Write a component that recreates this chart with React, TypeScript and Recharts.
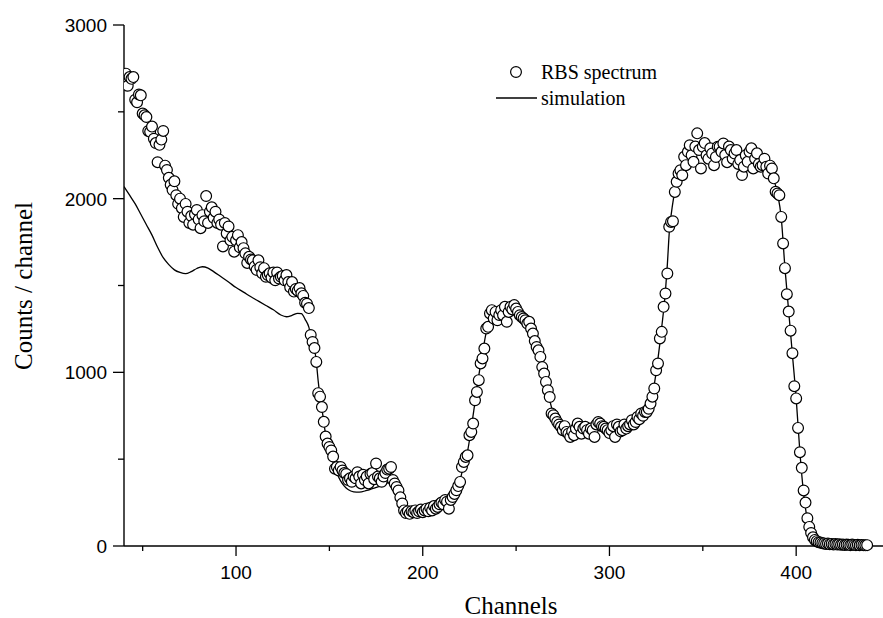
import React from "react";
import { ComposedChart, Line, Scatter, XAxis, YAxis } from "recharts";

// RBS spectrum: one count per channel, starting at channel 40
const FIRST_CHANNEL = 40;
const rbsCounts = [
  2660, 2720, 2650, 2700, 2690, 2700, 2570, 2555, 2600, 2595, // 40
  2490, 2480, 2470, 2390, 2385, 2415, 2345, 2320, 2210, 2310, // 50
  2340, 2390, 2190, 2165, 2120, 2080, 2050, 2100, 2020, 1970, // 60
  2000, 1945, 1895, 1970, 1925, 1860, 1900, 1850, 1910, 1935, // 70
  1880, 1830, 1905, 1870, 2015, 1860, 1925, 1950, 1890, 1925, // 80
  1860, 1880, 1850, 1725, 1860, 1800, 1840, 1760, 1780, 1695, // 90
  1760, 1790, 1720, 1750, 1715, 1685, 1630, 1665, 1650, 1645, // 100
  1610, 1590, 1645, 1605, 1570, 1600, 1550, 1560, 1570, 1545, // 110
  1575, 1530, 1575, 1540, 1550, 1555, 1530, 1560, 1520, 1490, // 120
  1520, 1465, 1480, 1470, 1485, 1455, 1440, 1400, 1395, 1370, // 130
  1215, 1175, 1140, 1060, 880, 860, 800, 715, 630, 590,       // 140
  570, 550, 515, 445, 455, 435, 455, 435, 420, 415,           // 150
  380, 390, 370, 400, 390, 425, 400, 360, 410, 380,           // 160
  400, 360, 415, 420, 385, 475, 400, 390, 370, 400,           // 170
  420, 440, 445, 455, 380, 360, 340, 320, 280, 245,           // 180
  205, 190, 200, 185, 200, 195, 205, 190, 200, 210,           // 190
  195, 205, 215, 200, 220, 205, 230, 215, 225, 240,           // 200
  250, 240, 265, 255, 215, 265, 282, 300, 321, 345,           // 210
  369, 455, 484, 513, 522, 638, 657, 705, 839, 887,           // 220
  955, 1051, 1080, 1137, 1252, 1262, 1339, 1358, 1310, 1348,  // 230
  1300, 1330, 1358, 1329, 1377, 1291, 1348, 1377, 1362, 1387, // 240
  1367, 1348, 1329, 1319, 1310, 1300, 1281, 1291, 1252, 1223, // 250
  1180, 1146, 1127, 1089, 1030, 993, 945, 897, 858, 763,      // 260
  753, 734, 714, 700, 686, 667, 690, 657, 647, 628,           // 270
  660, 638, 676, 705, 686, 647, 676, 686, 667, 647,           // 280
  676, 667, 628, 700, 714, 705, 690, 686, 676, 667,           // 290
  650, 667, 690, 628, 700, 686, 660, 667, 700, 676,           // 300
  690, 700, 724, 700, 714, 743, 730, 763, 750, 772,           // 310
  772, 790, 820, 860, 907, 1012, 1051, 1195, 1233, 1377,      // 320
  1454, 1569, 1838, 1866, 1870, 2039, 2097, 2145, 2164, 2135, // 330
  2241, 2193, 2270, 2308, 2250, 2212, 2300, 2376, 2280, 2174, // 340
  2299, 2320, 2250, 2230, 2290, 2260, 2193, 2240, 2299, 2299, // 350
  2270, 2318, 2251, 2210, 2300, 2280, 2230, 2260, 2280, 2200, // 360
  2222, 2136, 2184, 2250, 2212, 2270, 2290, 2174, 2230, 2261, // 370
  2200, 2184, 2193, 2230, 2184, 2145, 2190, 2174, 2117, 2040, // 380
  2030, 2020, 1895, 1742, 1600, 1450, 1350, 1240, 1110, 920,  // 390
  850, 680, 540, 450, 320, 250, 160, 110, 75, 50,             // 400
  35, 28, 22, 20, 16, 15, 12, 14, 10, 12,                     // 410
  9, 11, 8, 10, 7, 9, 6, 8, 7, 5,                             // 420
  8, 6, 5, 7, 4, 6, 5, 4, 5,                                  // 430
];

// simulation curve
const simChannels = [
  40, 43, 46, 49, 52, 55, 58, 61, 64, 67, 70, 73, 76, 79, 82, 85, 88, 92, 96, 100,
  104, 108, 112, 116, 120, 124, 127, 130, 133, 135, 137, 139, 140, 141, 142, 143, 144, 145, 146, 147,
  148, 149, 150, 152, 154, 156, 158, 160, 163, 166, 170, 173, 176, 179, 181, 183, 184, 185, 187, 189,
  191, 193, 196, 200, 204, 208, 212, 215, 218, 220, 222, 224, 226, 228, 230, 232, 234, 236, 240, 245,
  250, 254, 257, 260, 263, 266, 268, 270, 273, 277, 282, 290, 300, 310, 315, 318, 320, 322, 324, 326,
  328, 330, 331, 332, 334, 336, 338, 342, 350, 360, 370, 380, 385, 388, 390, 392, 394, 396, 398, 400,
  402, 404, 406, 408, 410, 414, 420, 430, 438,
];
const simCounts = [
  2070, 2020, 1970, 1910, 1850, 1790, 1720, 1660, 1620, 1590, 1575, 1568, 1580, 1598, 1608, 1600, 1580, 1550, 1520, 1488,
  1462, 1435, 1410, 1385, 1360, 1330, 1320, 1328, 1340, 1338, 1305, 1260, 1215, 1180, 1140, 1060, 950, 860, 790, 715,
  640, 590, 550, 480, 420, 375, 345, 325, 312, 310, 320, 330, 340, 352, 362, 390, 380, 360, 315, 245,
  195, 182, 180, 185, 195, 215, 245, 280, 330, 380, 470, 545, 680, 830, 980, 1110, 1230, 1300, 1350, 1375,
  1370, 1340, 1280, 1185, 1090, 940, 840, 760, 705, 675, 665, 665, 672, 690, 710, 745, 775, 830, 930, 1080,
  1260, 1470, 1620, 1800, 1980, 2100, 2170, 2240, 2260, 2260, 2240, 2220, 2180, 2110, 2030, 1890, 1600, 1350, 1100, 850,
  540, 300, 150, 60, 25, 8, 3, 2, 2,
];

const xTicks = [50, 100, 150, 200, 250, 300, 350, 400];
const yTicks = [0, 500, 1000, 1500, 2000, 2500, 3000];

const rbsData = rbsCounts.map((v, i) => ({ ch: FIRST_CHANNEL + i, v }));
const simData = simChannels.map((ch, i) => ({ ch, v: simCounts[i] }));

const W = 883;
const H = 618;
const LEFT = 124;
const TOP = 25;
const XAXIS_H = 72;
const BOTTOM = H - XAXIS_H;

const SANS = "'Liberation Sans', Arial, Helvetica, sans-serif";
const SERIF = "'Liberation Serif', 'Times New Roman', serif";

const YTick = (props: any) => {
  const { y, payload } = props;
  const major = payload.value % 1000 === 0;
  return (
    <g>
      <line x1={LEFT - (major ? 11 : 6)} x2={LEFT} y1={y} y2={y} stroke="#000" strokeWidth={1.3} />
      {major && (
        <text x={LEFT - 17} y={y} dy="0.36em" textAnchor="end" fontFamily={SANS} fontSize={19} fill="#000">
          {payload.value}
        </text>
      )}
    </g>
  );
};

const XTick = (props: any) => {
  const { x, payload } = props;
  const major = payload.value % 100 === 0;
  return (
    <g>
      <line x1={x} x2={x} y1={BOTTOM} y2={BOTTOM + (major ? 10 : 5)} stroke="#000" strokeWidth={1.3} />
      {major && (
        <text x={x} y={BOTTOM + 33} textAnchor="middle" fontFamily={SANS} fontSize={19} fill="#000">
          {payload.value}
        </text>
      )}
    </g>
  );
};

const OpenCircle = (props: any) => {
  const { cx, cy } = props;
  if (cx == null || cy == null) return <g />;
  return <circle cx={cx} cy={cy} r={5.4} fill="#fff" stroke="#000" strokeWidth={1.2} />;
};

export default function App() {
  return (
    <div style={{ position: "absolute", left: 0, top: 0, width: W, height: H, background: "#fff" }}>
      <ComposedChart width={W} height={H} margin={{ top: TOP, right: 0, bottom: 0, left: 0 }}>
        <XAxis
          xAxisId="top"
          orientation="top"
          type="number"
          dataKey="ch"
          domain={[40, 446.5]}
          ticks={xTicks}
          height={0}
          tick={false}
          tickSize={3}
          axisLine={{ stroke: "#000", strokeWidth: 1.4 }}
          tickLine={{ stroke: "#000", strokeWidth: 1.2 }}
        />
        <XAxis
          type="number"
          dataKey="ch"
          domain={[40, 446.5]}
          allowDataOverflow
          ticks={xTicks}
          height={XAXIS_H}
          tickLine={false}
          tick={<XTick />}
          axisLine={{ stroke: "#000", strokeWidth: 1.4 }}
        />
        <YAxis
          type="number"
          domain={[0, 3000]}
          ticks={yTicks}
          width={LEFT}
          tickLine={false}
          tick={<YTick />}
          axisLine={{ stroke: "#000", strokeWidth: 1.4 }}
        />
        <Line
          data={simData}
          dataKey="v"
          type="monotone"
          stroke="#000"
          strokeWidth={1.3}
          dot={false}
          activeDot={false}
          isAnimationActive={false}
        />
        <Scatter data={rbsData} dataKey="v" shape={<OpenCircle />} isAnimationActive={false} />
      </ComposedChart>
      <svg
        width={W}
        height={H}
        style={{ position: "absolute", left: 0, top: 0, pointerEvents: "none" }}
      >
        <text x={511} y={614} textAnchor="middle" fontFamily={SERIF} fontSize={25} fill="#000">
          Channels
        </text>
        <text
          transform="translate(32, 286) rotate(-90)"
          textAnchor="middle"
          fontFamily={SERIF}
          fontSize={25}
          fill="#000"
        >
          Counts / channel
        </text>
        <circle cx={516} cy={72} r={5.4} fill="#fff" stroke="#000" strokeWidth={1.2} />
        <text x={541} y={79} fontFamily={SERIF} fontSize={20} fill="#000">
          RBS spectrum
        </text>
        <line x1={496} x2={537} y1={98} y2={98} stroke="#000" strokeWidth={1.3} />
        <text x={541} y={105} fontFamily={SERIF} fontSize={20} fill="#000">
          simulation
        </text>
      </svg>
    </div>
  );
}
